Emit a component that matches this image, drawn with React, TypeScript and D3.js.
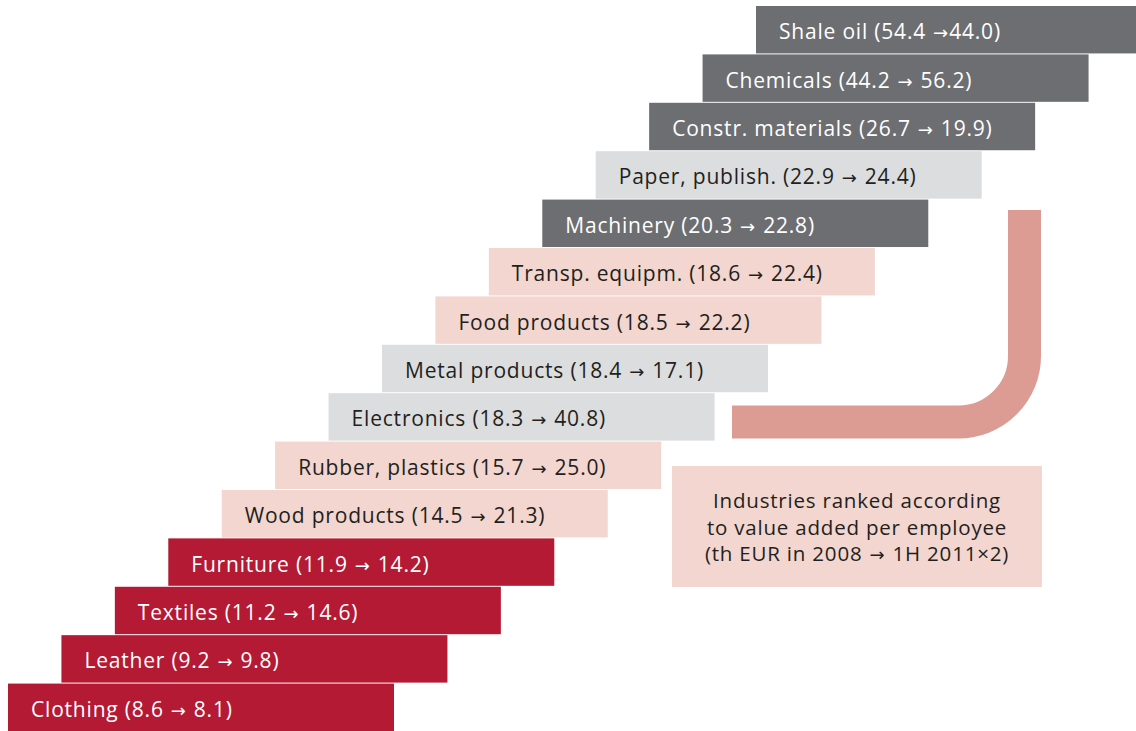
import React, {useEffect, useRef} from "react"
import * as d3 from "d3"

// bottom -> top ranking
const industries = [
    "Clothing", "Leather", "Textiles", "Furniture", "Wood products", "Rubber, plastics",
    "Electronics", "Metal products", "Food products", "Transp. equipm.", "Machinery",
    "Paper, publish.", "Constr. materials", "Chemicals", "Shale oil",
]
const value2008 = [8.6, 9.2, 11.2, 11.9, 14.5, 15.7, 18.3, 18.4, 18.5, 18.6, 20.3, 22.9, 26.7, 44.2, 54.4]
const value2011 = ["8.1", "9.8", "14.6", "14.2", "21.3", "25.0", "40.8", "17.1", "22.2", "22.4", "22.8", "24.4", "19.9", "56.2", "44.0"]
const groups = ["low", "low", "low", "low", "mid", "mid", "grey", "grey", "mid", "mid", "high", "grey", "high", "high", "high"]
const noteLines = [
    ["Industries ranked according"],
    ["to value added per employee"],
    ["(th EUR in 2008", "1H 2011\u00d72)"],
]

const fill: Record<string, string> = {low: "#b41a34", mid: "#f2d6cf", grey: "#dcdddf", high: "#6d6e72"}
const ink: Record<string, string> = {low: "#ffffff", mid: "#231f20", grey: "#231f20", high: "#ffffff"}

const W = 1136
const H = 731
const FONT = "'Open Sans', sans-serif"
const ARROW_FONT = "'DejaVu Sans', sans-serif"

// before / arrow / after, arrow drawn in its own font with explicit gaps
const addParts = (sel: any, before: string, after: string, gapAfter = 8) => {
    sel.append("tspan").text(before)
    sel.append("tspan").attr("dx", 7)
        .style("font-family", ARROW_FONT).style("font-size", "18px").style("letter-spacing", "0px")
        .text("\u2192")
    sel.append("tspan").attr("dx", gapAfter).text(after)
}

const App = () => {
    const ref = useRef(null)

    useEffect(() => {
        const svg = d3.select(ref.current)
        svg.selectAll("*").remove()

        const idx = d3.range(industries.length)
        const y = d3.scaleBand<number>()
            .domain(idx.slice().reverse())
            .range([6, H])
            .paddingInner(0.02)
        const x = d3.scaleLinear().domain([0, industries.length - 1]).range([8, 756])
        const barW = 386

        const g = svg.append("g")
        const rows = g.selectAll("g.row").data(idx).join("g")
            .attr("class", "row")
            .attr("transform", d => `translate(${x(d)},${y(d)})`)

        rows.append("rect")
            .attr("width", barW)
            .attr("height", y.bandwidth())
            .attr("fill", d => fill[groups[d]])

        rows.append("text")
            .attr("x", 23)
            .attr("y", y.bandwidth() / 2)
            .attr("dy", "0.45em")
            .attr("fill", d => ink[groups[d]])
            .style("font-family", FONT)
            .style("font-size", "21px")
            .style("letter-spacing", "0.8px")
            .each(function (d) {
                const last = d === industries.length - 1
                addParts(d3.select(this),
                    `${industries[d]} (${value2008[d].toFixed(1)}`,
                    `${value2011[d]})`,
                    last ? 1 : 8)
            })

        // curved arrow band
        const p = d3.path()
        p.moveTo(1024.5, 210)
        p.lineTo(1024.5, 356)
        p.arcTo(1024.5, 422, 958, 422, 66)
        p.lineTo(732, 422)
        svg.append("path")
            .attr("d", p.toString())
            .attr("fill", "none")
            .attr("stroke", "#dc9b93")
            .attr("stroke-width", 33)

        // note box
        svg.append("rect")
            .attr("x", 672).attr("y", 466)
            .attr("width", 370).attr("height", 121)
            .attr("fill", "#f2d6cf")
        svg.append("g").selectAll("text").data(noteLines).join("text")
            .attr("x", 857)
            .attr("y", (_, i) => 500 + i * 26.5)
            .attr("dy", "0.4em")
            .attr("text-anchor", "middle")
            .attr("fill", "#231f20")
            .style("font-family", FONT)
            .style("font-size", "20.5px")
            .style("letter-spacing", "0.8px")
            .each(function (d) {
                if (d.length === 1) d3.select(this).text(d[0])
                else addParts(d3.select(this), d[0], d[1])
            })
    }, [])

    return (
        <svg ref={ref} width={W} height={H}
             style={{position: "absolute", left: 0, top: 0, background: "#fff"}}/>
    )
}

export default App
